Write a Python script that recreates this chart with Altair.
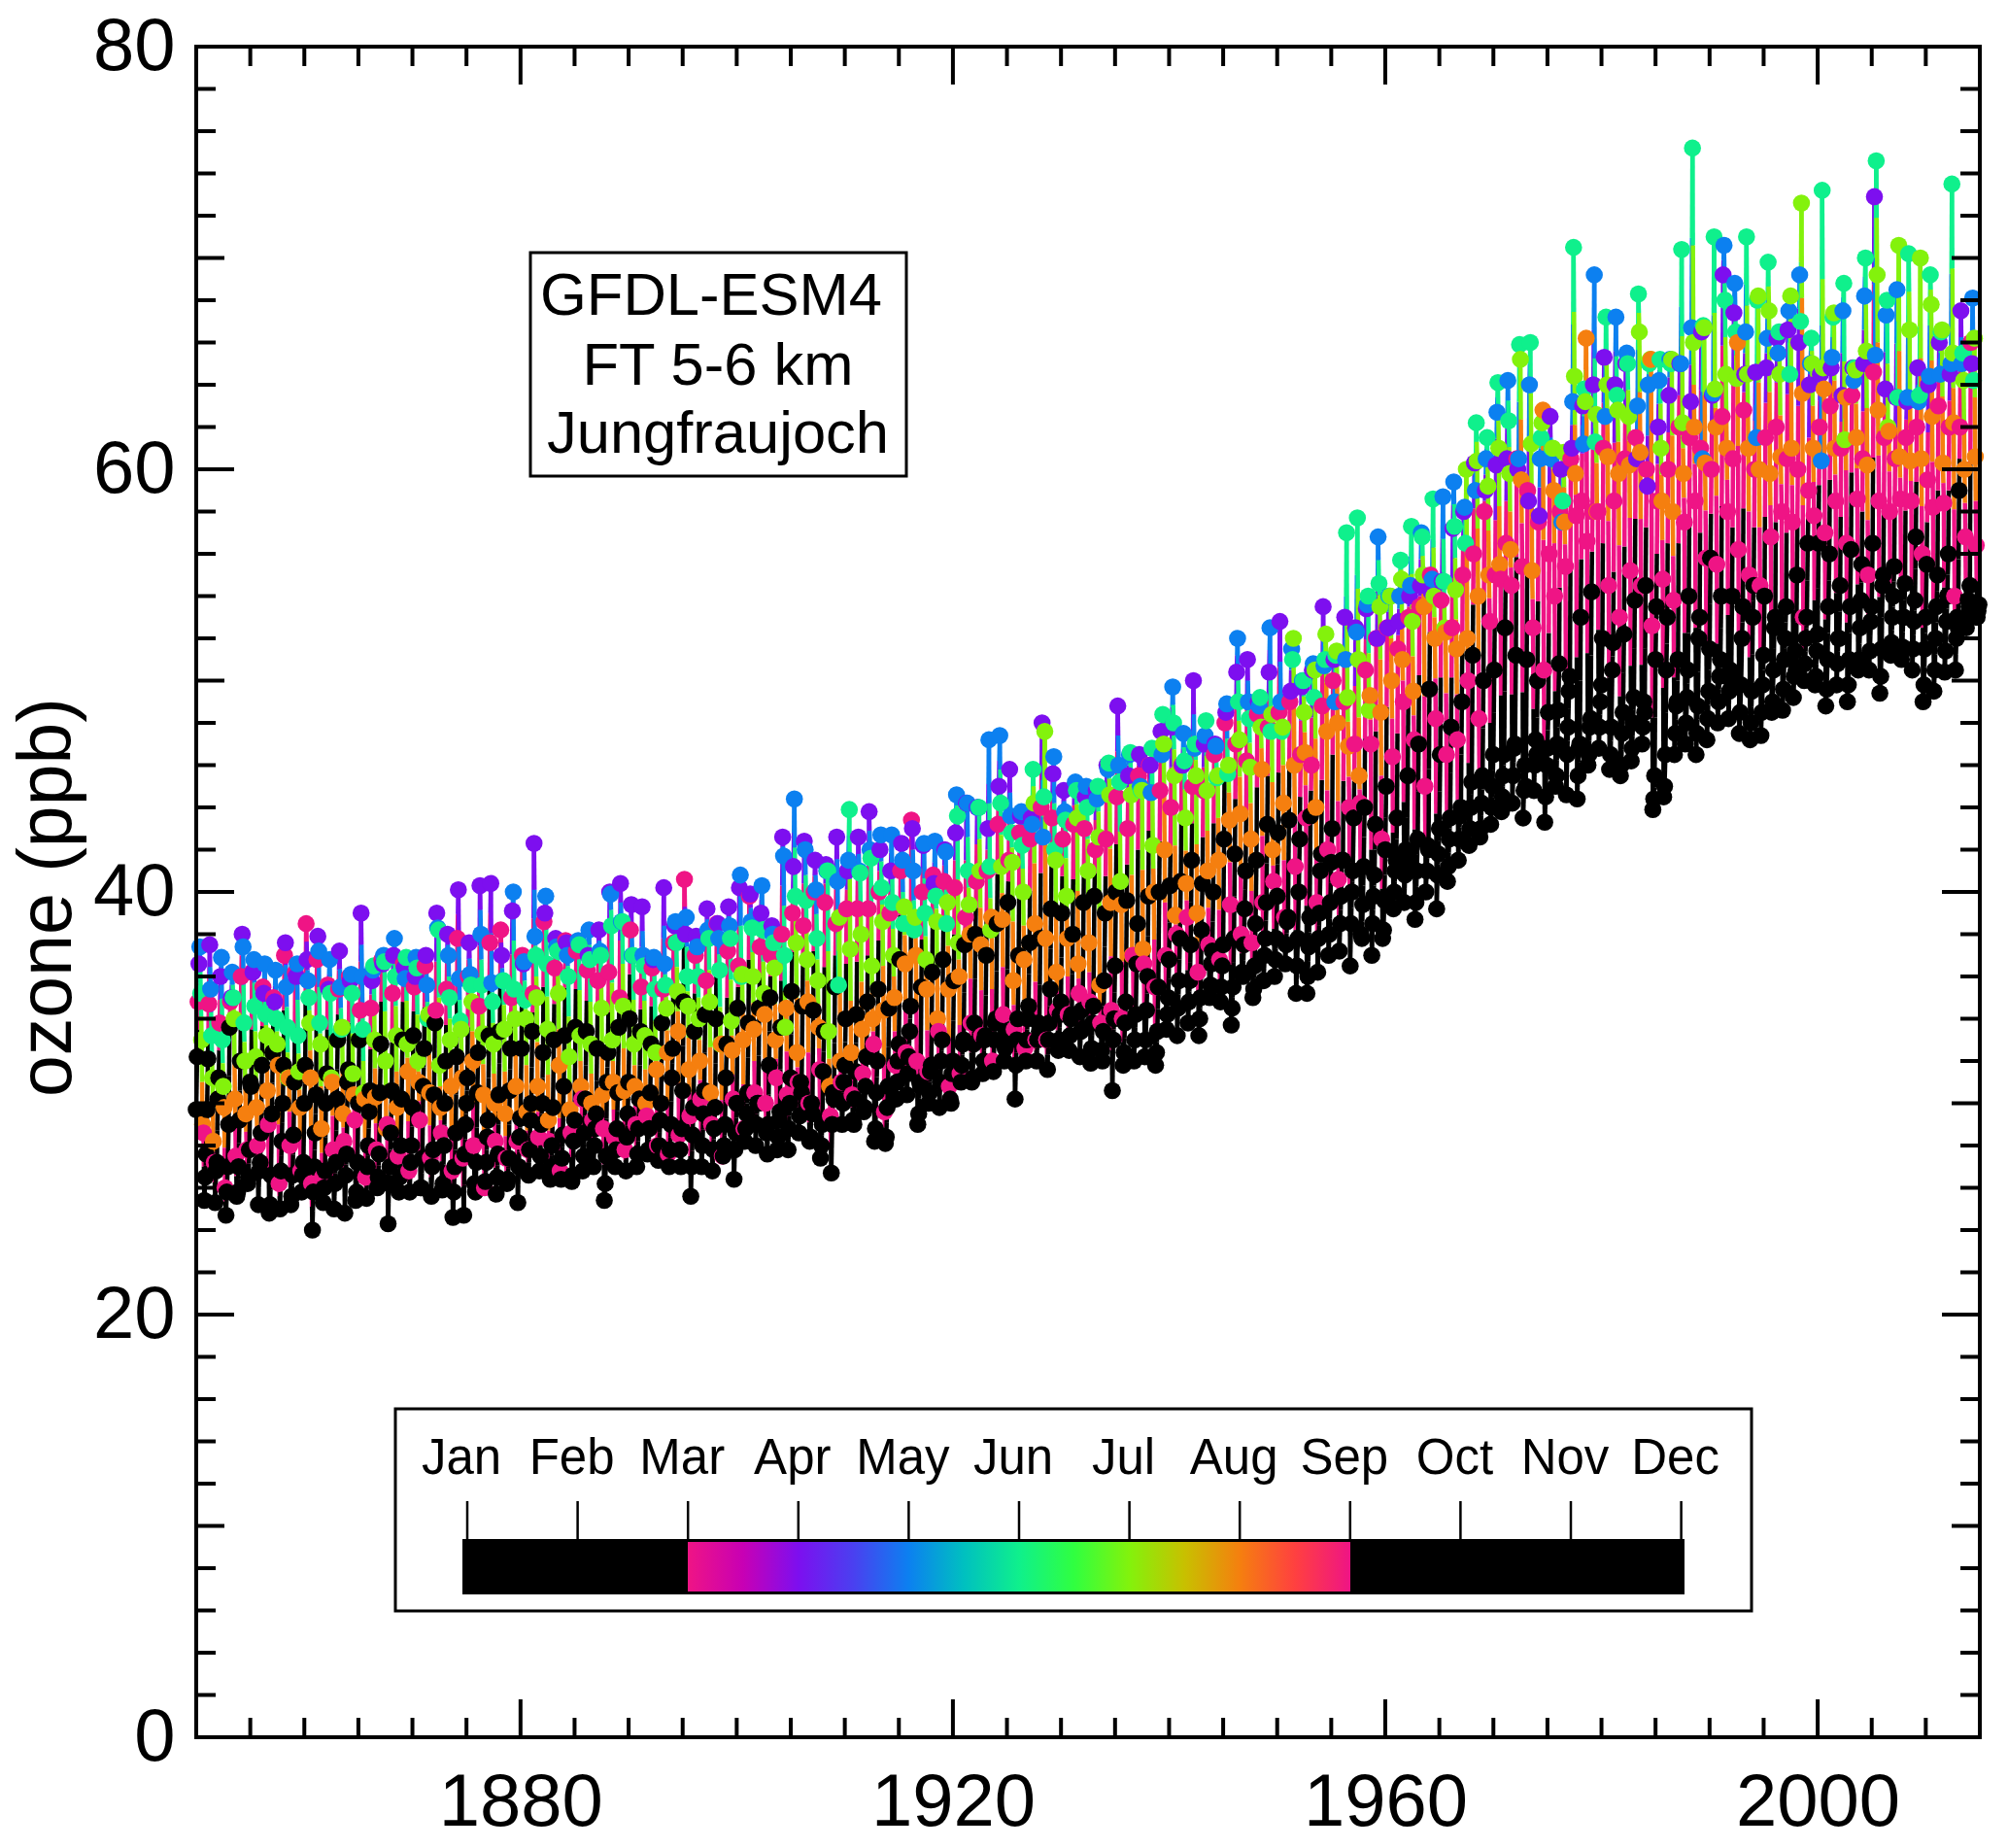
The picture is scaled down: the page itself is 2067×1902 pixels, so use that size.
import altair as alt
import pandas as pd

JAN = [29.7,29.7,30.2,29.0,29.2,31.0,28.6,29.5,30.0,28.5,
30.0,28.6,30.0,30.2,31.0,30.0,29.6,30.5,28.6,30.2,
29.8,30.8,30.4,30.0,28.6,30.0,30.5,29.2,30.4,30.6,
29.3,30.0,30.0,29.8,30.8,29.2,30.2,29.5,31.0,30.5,
31.0,30.2,30.5,30.0,31.2,30.6,29.8,30.6,29.8,31.2,
30.0,30.5,30.0,31.8,29.6,31.2,30.5,29.5,31.5,30.2,
31.8,31.5,32.2,32.0,30.8,32.8,33.4,30.8,31.8,33.0,
32.0,33.0,33.8,33.2,34.0,33.2,34.0,34.6,33.4,35.4,
34.8,34.2,33.5,34.6,35.8,36.5,34.8,36.6,36.0,35.5,
36.8,37.8,37.5,38.2,37.2,37.5,37.8,39.2,38.5,39.5,
39.8,38.8,40.0,38.8,41.0,41.4,41.5,41.0,41.2,40.8,
42.0,41.5,41.5,42.5,42.0,43.0,43.5,44.0,45.2,45.5,
46.5,46.5,47.0,45.0,46.5,46.8,48.6,49.5,47.0,48.2,
49.8,50.5,48.5,49.2,48.5,51.0,50.5,49.0,50.5,52.0,
51.5,51.0,50.0,52.0,53.0,51.2,52.5,52.0,50.5,53.0,
52.2,53.5,52.0,53.5,53.8,53.5,54.5,54.0,53.0,53.8,
53.0,53.5,54.0,52.5,53.5]
FEB = [32.2,32.1,31.2,33.6,32.0,30.8,31.8,32.4,31.8,31.0,
31.8,30.4,31.4,33.0,31.6,33.0,30.6,32.8,30.6,33.0,
33.2,32.6,33.8,32.0,32.2,31.2,32.4,33.2,33.4,32.6,
32.6,33.4,32.4,33.0,33.2,33.6,33.4,32.6,32.4,33.6,
34.0,33.4,32.8,33.8,32.6,34.8,33.4,34.2,34.0,32.8,
34.5,33.8,34.5,35.0,33.6,35.3,34.6,34.4,33.4,35.5,
34.0,34.2,34.8,35.4,34.5,36.8,34.6,35.5,36.2,36.8,
35.8,37.5,38.0,37.0,38.5,39.5,37.0,37.6,37.8,39.2,
39.0,38.0,39.5,39.8,39.0,40.0,39.6,38.5,39.8,40.0,
40.3,40.5,41.5,40.4,40.0,42.5,41.8,41.0,41.5,43.2,
42.8,43.4,42.5,43.6,41.8,43.0,41.5,43.5,44.0,43.2,
45.0,43.5,45.5,47.0,49.6,46.5,47.8,49.0,51.2,50.0,
50.5,52.5,51.2,51.0,50.0,48.5,50.8,50.2,53.0,54.2,
52.0,51.8,52.2,53.8,54.5,53.5,53.0,51.0,54.0,53.0,
55.8,54.0,54.0,53.5,54.5,54.0,53.0,53.5,55.0,56.5,
56.5,56.0,54.5,56.2,55.5,56.5,55.0,55.4,54.6,56.8,
55.5,55.0,56.0,59.0,54.5]
MAR = [34.8,34.7,33.8,34.8,36.0,36.2,35.5,35.0,37.0,36.2,
38.5,36.8,35.6,35.4,36.0,34.4,34.5,36.8,35.2,36.6,
35.5,36.5,34.4,35.4,37.8,36.0,34.6,37.6,38.2,35.0,
37.0,35.2,38.6,36.4,37.7,37.2,36.3,35.8,36.2,35.0,
38.2,35.5,36.4,35.4,37.6,40.6,37.0,35.8,38.5,37.2,
36.5,39.8,37.4,37.0,38.0,39.0,38.4,40.0,39.5,38.5,
39.2,39.2,39.2,40.0,39.0,41.0,43.4,40.0,40.8,40.5,
40.2,38.8,40.5,41.0,43.2,41.5,42.8,42.5,44.0,43.5,
42.5,43.2,43.0,42.0,42.5,44.5,43.0,45.5,46.0,44.8,
44.0,46.0,45.0,44.8,46.5,48.0,47.0,46.2,48.4,47.8,
48.5,49.0,46.5,46.0,48.8,50.0,49.0,47.0,50.5,52.0,
52.5,51.5,53.0,53.5,55.0,53.8,52.5,55.0,56.0,58.0,
55.0,56.5,60.5,59.0,57.5,56.0,58.0,60.5,58.5,58.0,
61.0,58.5,60.5,61.5,60.0,58.5,60.0,62.0,61.5,61.0,
60.0,62.5,60.5,62.8,60.0,61.5,62.0,60.5,60.0,59.0,
62.0,63.0,61.0,63.5,60.5,64.6,61.5,60.5,61.5,62.0,
59.5,63.0,62.0,62.0,66.0]
APR = [36.6,37.5,36.0,35.0,38.0,36.2,35.2,34.8,37.6,36.0,
36.8,37.9,35.4,37.2,35.8,39.0,35.8,36.6,37.0,36.4,
36.0,37.0,39.0,38.0,40.1,37.6,40.3,40.4,37.0,39.1,
36.6,42.3,39.0,37.8,37.6,37.6,37.0,38.2,40.0,40.4,
39.4,39.3,36.8,40.2,38.4,38.0,37.9,39.2,38.5,39.3,
40.2,39.9,39.0,38.4,42.6,41.2,42.4,41.5,41.3,42.6,
41.0,42.6,43.8,42.0,41.0,42.3,43.0,42.2,40.4,42.0,
42.8,44.2,44.0,43.0,45.0,45.8,43.6,43.5,48.0,45.6,
44.8,45.0,44.5,44.8,46.0,48.8,45.5,46.5,46.0,47.6,
47.8,46.0,50.0,47.0,47.0,48.5,50.4,51.0,49.0,50.4,
52.8,49.5,49.7,50.5,53.5,51.0,53.0,52.5,53.4,52.0,
52.5,52.8,54.0,54.5,54.2,54.7,57.2,58.0,60.3,59.0,
60.2,60.5,60.0,58.5,57.8,62.5,60.0,61.0,63.0,64.0,
65.3,64.0,65.0,60.5,59.2,62.0,63.5,65.0,63.2,66.5,
63.5,69.2,67.4,64.5,64.6,64.8,66.2,66.6,66.0,64.0,
64.5,64.8,63.5,64.8,65.0,72.9,63.8,63.4,63.2,64.8,
64.0,66.0,64.5,67.5,65.0]
MAY = [37.4,35.4,36.9,36.2,37.4,36.8,36.6,36.3,35.5,36.6,
35.8,37.2,36.8,35.5,36.1,36.0,36.3,37.0,37.8,35.9,
36.9,35.6,38.3,37.0,35.9,36.1,38.0,35.7,35.8,40.0,
36.7,37.9,39.8,37.4,37.0,37.7,38.2,37.2,39.9,38.6,
37.0,37.0,36.9,36.6,38.6,38.8,37.4,38.2,37.8,38.4,
40.8,38.6,40.3,38.0,41.7,44.4,42.0,40.1,41.0,40.5,
41.5,41.0,42.0,42.7,42.7,41.5,41.0,42.3,42.4,41.9,
44.6,44.2,44.0,47.2,47.4,43.6,43.8,43.2,42.6,46.4,
43.8,45.2,45.0,44.4,45.8,46.0,46.5,45.0,44.7,46.5,
49.7,47.5,46.8,47.4,46.9,48.9,52.0,49.0,48.8,52.5,
49.0,51.5,50.0,50.8,50.7,49.0,51.0,52.3,53.6,56.8,
54.0,54.0,54.5,57.0,54.8,58.7,59.4,58.2,59.0,60.5,
62.7,64.2,60.5,64.0,60.5,60.5,57.5,63.2,61.2,69.2,
62.5,67.2,65.5,63.0,64.0,64.2,65.2,65.0,66.7,60.5,
63.6,70.6,68.8,66.5,61.5,66.2,65.5,67.5,69.2,65.0,
60.4,65.3,67.5,64.2,68.2,65.4,67.3,68.5,63.4,63.2,
64.4,64.5,65.0,65.0,68.1]
JUN = [35.2,33.2,33.0,35.0,33.8,34.6,34.2,34.0,33.6,33.2,
35.0,33.8,35.2,33.5,35.2,33.5,36.5,36.7,36.0,36.9,
36.4,34.0,38.2,35.0,33.9,35.6,35.6,34.8,35.8,35.4,
34.9,37.0,36.6,37.2,36.0,37.5,36.8,37.0,38.4,38.6,
37.0,36.5,35.4,35.6,37.6,36.0,36.0,37.8,36.3,37.8,
36.0,38.3,38.2,37.6,37.0,39.8,39.6,37.8,41.0,35.6,
43.9,40.9,41.6,40.2,39.5,38.5,38.2,39.0,39.8,38.5,
43.6,41.0,44.0,41.2,44.2,42.8,42.2,45.8,44.5,42.0,
43.4,44.8,44.0,45.0,46.1,45.2,46.6,44.8,46.8,48.4,
48.0,46.2,47.0,48.1,45.4,45.6,49.0,48.2,49.2,47.6,
47.6,51.0,50.0,49.2,51.0,51.2,57.0,57.7,54.0,54.6,
54.0,55.7,57.3,56.8,58.6,54.7,57.3,56.5,62.2,61.5,
64.1,62.3,65.9,66.0,61.5,61.0,58.5,70.5,63.8,61.3,
67.2,63.5,65.0,68.3,65.0,65.2,65.0,70.4,75.2,66.8,
71.0,68.0,66.5,71.0,68.0,69.8,66.5,64.5,67.0,66.2,
73.2,67.2,68.8,64.8,70.0,74.6,68.0,63.4,70.2,63.5,
69.2,66.5,73.5,65.5,64.2]
JUL = [33.0,31.2,30.8,34.0,32.0,32.2,33.2,32.8,31.2,31.5,
33.8,32.8,31.2,33.6,31.4,30.5,33.0,32.0,33.2,32.8,
32.0,34.2,31.8,33.0,33.5,34.8,33.3,32.8,33.5,34.0,
34.0,35.0,33.5,35.2,32.2,33.2,32.8,34.5,33.0,34.6,
32.8,33.2,32.4,34.5,35.3,34.6,34.0,34.8,32.8,33.9,
36.1,36.0,35.2,36.4,33.6,37.6,36.8,35.8,33.4,38.8,
37.3,38.0,36.5,38.6,37.0,39.3,38.8,36.8,38.6,39.5,
37.6,39.4,41.0,38.2,41.2,41.4,40.0,44.2,47.6,41.5,
39.8,43.5,41.0,42.6,44.6,40.5,44.6,44.8,42.2,47.0,
45.5,43.5,45.5,44.8,45.5,46.0,47.2,45.9,47.8,48.4,
47.8,52.0,48.5,50.5,52.2,51.4,49.2,51.0,48.6,53.5,
54.0,54.8,52.8,55.0,54.0,52.5,54.3,60.0,60.4,59.2,
61.0,59.8,65.2,61.2,62.2,61.0,60.8,64.4,63.2,62.6,
64.0,62.8,62.5,66.5,65.2,61.0,65.2,62.2,66.0,66.7,
63.8,64.5,64.3,64.5,68.2,67.5,64.5,68.2,72.6,65.0,
64.8,67.4,61.4,64.7,65.6,69.2,62.0,70.6,66.6,70.0,
67.8,66.6,65.5,64.2,66.2]
AUG = [29.0,28.2,29.8,30.2,29.5,29.8,30.6,31.8,31.2,29.8,
31.2,28.8,31.0,29.5,30.4,30.2,30.3,28.8,29.8,31.5,
31.0,30.5,29.8,30.8,31.2,32.0,30.4,30.0,29.5,30.8,
29.6,30.8,29.2,31.8,29.7,30.8,30.0,30.4,31.0,30.6,
30.8,30.0,31.6,32.4,33.4,31.6,32.0,30.5,32.8,32.5,
33.0,33.5,34.2,33.0,34.5,32.4,34.8,33.6,30.8,32.0,
32.4,33.5,34.0,34.4,35.0,36.6,37.0,35.4,34.0,35.4,
36.0,38.0,37.5,38.8,38.7,35.8,36.8,38.5,37.8,36.2,
37.8,36.6,37.6,35.6,39.5,39.4,37.0,37.3,40.0,42.0,
38.9,40.4,39.0,41.0,41.5,43.4,43.7,42.5,45.8,42.0,
44.2,46.0,46.6,44.0,47.6,48.0,46.9,45.5,49.3,48.5,
50.0,51.0,49.5,53.5,52.0,52.3,51.5,52.0,54.0,55.0,
55.5,56.2,59.5,55.2,62.8,59.0,57.5,59.8,66.2,58.0,
60.6,59.8,60.2,60.8,65.2,58.5,58.0,59.8,62.0,60.3,
62.0,61.0,66.0,61.0,60.0,59.8,60.6,61.0,63.6,61.0,
63.8,61.0,63.4,61.5,60.2,62.8,61.8,60.6,60.4,60.5,
62.5,60.3,62.2,60.0,60.6]
SEP = [28.6,27.2,26.0,27.5,27.8,28.0,29.0,26.2,28.0,26.8,
26.2,26.5,27.8,28.2,29.2,26.5,27.8,29.0,27.5,26.8,
29.2,27.4,28.6,26.8,27.4,28.0,26.0,28.2,27.4,28.2,
27.8,28.4,28.2,26.8,28.6,30.2,29.2,28.8,28.4,27.8,
29.0,29.4,28.0,27.6,28.5,29.4,30.2,29.0,27.5,30.2,
28.8,30.5,30.0,31.2,30.4,31.0,30.0,31.6,29.4,31.0,
30.4,31.4,32.8,29.6,31.8,32.4,32.0,31.5,33.4,30.8,
31.4,33.8,33.2,32.0,34.2,33.5,32.6,33.0,33.0,34.4,
34.2,35.2,34.8,33.8,34.4,34.0,37.0,36.6,35.5,37.0,
38.0,38.8,36.2,37.5,36.8,39.4,38.0,37.6,39.5,40.5,
38.8,41.2,43.5,39.5,42.0,40.6,44.0,44.2,47.0,42.5,
46.4,49.0,47.2,45.0,48.2,46.5,47.2,50.0,48.2,52.8,
54.8,54.5,55.4,52.5,50.5,54.0,55.4,57.8,56.6,58.0,
54.5,53.0,55.2,54.5,52.6,54.8,53.8,57.5,58.5,55.8,
55.5,58.0,56.2,55.0,54.5,56.8,58.0,57.5,53.0,57.8,
57.0,58.5,56.5,58.6,55.0,58.5,58.0,58.6,58.5,56.0,
58.2,58.4,54.0,56.8,56.4]
OCT = [25.4,25.3,24.7,25.6,26.2,25.2,24.8,25.0,25.2,25.8,
24.0,25.3,25.0,24.8,25.4,25.5,26.0,24.3,25.8,25.8,
26.0,25.6,25.9,24.6,24.7,26.2,26.3,25.7,26.2,25.3,
26.6,26.8,26.4,26.4,26.3,26.8,27.0,25.4,27.0,26.8,
27.0,27.6,27.3,27.0,27.8,25.6,27.0,26.8,27.5,26.4,
28.2,28.0,28.6,27.8,27.8,28.6,28.2,27.4,26.7,29.0,
29.2,29.6,28.2,28.1,30.2,30.4,29.0,30.0,29.8,30.2,
31.0,31.0,31.4,31.5,32.0,30.2,32.0,32.0,31.6,32.5,
32.5,32.2,31.9,32.5,30.6,31.8,32.0,32.2,31.8,33.5,
33.2,33.8,33.2,35.0,34.8,33.7,36.2,35.0,35.8,36.0,
36.6,35.2,35.2,36.2,37.0,37.2,36.5,38.0,37.0,37.8,
39.2,39.5,38.7,40.0,39.2,40.5,41.5,42.2,42.6,43.2,
43.8,44.2,43.5,44.8,43.3,45.0,44.6,44.4,46.0,46.8,
45.8,45.5,46.2,47.0,43.9,44.5,46.5,47.0,46.5,47.2,
48.0,48.2,47.5,47.2,47.4,48.5,48.6,49.2,50.0,49.8,
48.8,49.8,49.0,50.5,50.5,49.4,51.2,51.0,50.5,49.0,
49.5,50.4,50.5,52.5,53.0]
NOV = [26.5,26.8,25.8,25.8,26.5,26.8,25.2,26.8,25.6,26.6,
25.8,26.0,26.2,26.6,25.8,27.0,26.5,26.2,26.5,27.2,
26.0,27.0,26.2,25.8,27.6,25.8,27.2,26.5,26.4,27.0,
27.8,27.5,27.0,27.4,26.6,27.5,28.0,26.2,27.8,28.4,
27.6,27.8,28.0,27.8,27.0,27.0,28.0,27.8,28.0,27.8,
28.8,29.0,27.6,28.4,28.8,29.4,28.4,28.0,29.0,30.0,
29.0,29.8,28.8,28.4,31.0,31.4,29.5,30.5,31.0,30.0,
31.8,31.2,32.0,33.0,32.6,31.8,33.0,33.0,33.0,33.0,
33.2,33.4,32.6,32.0,33.0,32.4,33.0,33.0,32.4,34.2,
34.5,34.8,34.0,35.6,35.5,34.5,36.0,35.4,37.0,36.8,
37.5,36.5,36.0,37.8,38.0,38.5,38.5,37.8,38.5,38.2,
40.0,40.8,39.5,41.0,40.8,41.2,42.5,43.0,43.0,44.0,
44.5,45.5,44.8,46.0,44.5,45.5,46.5,45.5,46.5,47.8,
46.5,46.0,46.8,47.8,44.4,45.0,47.5,48.0,47.5,48.2,
49.0,49.5,48.5,48.0,48.5,49.0,49.6,50.2,50.8,50.2,
49.6,50.8,49.8,51.0,51.4,50.2,51.8,51.6,51.5,49.8,
50.5,51.4,52.0,53.0,53.3]
DEC = [27.6,27.2,27.0,27.0,27.8,27.2,26.6,28.2,26.6,27.2,
27.0,26.8,27.2,27.6,27.2,28.0,27.6,27.0,28.0,28.0,
27.4,27.8,28.0,27.0,29.0,27.2,28.4,27.6,27.4,28.4,
29.2,29.0,28.0,28.5,28.2,28.6,28.8,27.5,28.8,29.5,
28.8,28.8,29.2,29.0,28.8,28.5,29.5,28.8,29.0,28.6,
29.5,30.0,29.0,29.2,30.0,31.0,30.0,29.0,30.5,31.0,
30.2,30.8,30.5,29.8,32.0,32.2,31.0,31.5,32.0,31.4,
32.8,32.8,33.0,33.8,33.4,33.0,34.0,33.8,33.8,34.2,
34.0,34.4,33.8,33.4,34.0,33.8,34.2,34.4,33.4,35.0,
35.8,35.8,35.0,36.6,36.5,35.5,37.5,36.5,37.8,37.8,
38.6,37.8,37.4,39.0,39.5,39.8,40.0,39.4,39.8,39.6,
41.0,42.0,41.0,42.2,41.8,42.5,43.6,44.0,44.2,45.0,
45.5,46.8,46.0,47.2,46.0,47.0,47.8,46.8,47.8,49.0,
47.8,47.5,48.0,49.0,45.5,46.5,48.8,49.2,48.8,49.5,
50.2,50.5,49.8,49.5,49.8,50.5,51.0,51.4,52.0,51.4,
51.0,52.0,51.0,52.5,52.8,51.5,53.0,53.0,52.8,51.5,
52.0,52.8,53.0,53.8,53.6]

MONTHS = ["Jan","Feb","Mar","Apr","May","Jun","Jul","Aug","Sep","Oct","Nov","Dec"]
SERIES = [JAN,FEB,MAR,APR,MAY,JUN,JUL,AUG,SEP,OCT,NOV,DEC]
COLORS = ["#000000","#000000","#ef1485","#7d0fef","#0c80f0","#0ff08c",
          "#83f20c","#f57f0f","#ef1485","#000000","#000000","#000000"]
FIRST_YEAR = 1850
N_YEARS = min(len(s) for s in SERIES)

FONT = "Liberation Sans"
W, H = 1836, 1740

pts = []
for yi in range(N_YEARS):
    for m in range(12):
        pts.append(dict(t=FIRST_YEAR + yi + m / 12, v=SERIES[m][yi], c=COLORS[m]))
segs = []
for i, p in enumerate(pts):
    if i > 0:
        q = pts[i - 1]
        segs.append(dict(t0=(p["t"] + q["t"]) / 2, v0=(p["v"] + q["v"]) / 2, t1=p["t"], v1=p["v"], c=p["c"]))
    if i < len(pts) - 1:
        q = pts[i + 1]
        segs.append(dict(t0=p["t"], v0=p["v"], t1=(p["t"] + q["t"]) / 2, v1=(p["v"] + q["v"]) / 2, c=p["c"]))
pts_df = pd.DataFrame(pts)
seg_df = pd.DataFrame(segs)

xscale = alt.Scale(domain=[1850, 2015], nice=False, zero=False)
yscale = alt.Scale(domain=[0, 80], nice=False)

stems = alt.Chart(seg_df).mark_rule(strokeWidth=4.5).encode(
    x=alt.X("t0:Q", scale=xscale,
            axis=alt.Axis(values=[1880, 1920, 1960, 2000], format="d", ticks=False, domain=False, grid=False,
                          labelFontSize=76, labelFont=FONT, labelColor="black", labelPadding=30,
                          labelFlush=False, title=None)),
    x2="t1:Q",
    y=alt.Y("v0:Q", scale=yscale,
            axis=alt.Axis(values=[0, 20, 40, 60, 80], ticks=False, domain=False, grid=False,
                          labelFontSize=76, labelFont=FONT, labelColor="black", labelPadding=22,
                          title="ozone (ppb)", titleFontSize=77, titleFont=FONT, titleFontWeight="normal",
                          titleColor="black", titleBaseline="middle", titleX=-153, titleY=875)),
    y2="v1:Q",
    color=alt.Color("c:N", scale=None),
)
dots = alt.Chart(pts_df).mark_circle(size=310, opacity=1).encode(
    x=alt.X("t:Q", scale=xscale), y=alt.Y("v:Q", scale=yscale), color=alt.Color("c:N", scale=None))


def xticks(values, length):
    d = pd.DataFrame({"t": values})
    bottom = alt.Chart(d).mark_rule(strokeWidth=4, color="black").encode(
        x=alt.X("t:Q", scale=xscale), y=alt.value(H), y2=alt.value(H - length))
    top = alt.Chart(d).mark_rule(strokeWidth=4, color="black").encode(
        x=alt.X("t:Q", scale=xscale), y=alt.value(0), y2=alt.value(length))
    return [bottom, top]


def yticks(values, length):
    d = pd.DataFrame({"v": values})
    left = alt.Chart(d).mark_rule(strokeWidth=4, color="black").encode(
        y=alt.Y("v:Q", scale=yscale), x=alt.value(0), x2=alt.value(length))
    right = alt.Chart(d).mark_rule(strokeWidth=4, color="black").encode(
        y=alt.Y("v:Q", scale=yscale), x=alt.value(W), x2=alt.value(W - length))
    return [left, right]


one = pd.DataFrame({"a": [0]})


def box(x0, x1, y0, y1, **kw):
    return alt.Chart(one).mark_rect(**kw).encode(
        x=alt.value(x0), x2=alt.value(x1), y=alt.value(y0), y2=alt.value(y1))


def label(txt, x, y, size):
    return alt.Chart(one).mark_text(text=txt, font=FONT, fontSize=size, color="black",
                                    align="center", baseline="middle").encode(x=alt.value(x), y=alt.value(y))


layers = [stems, dots]
layers += xticks([t for t in range(1855, 2015, 5) if t not in (1880, 1920, 1960, 2000)], 20)
layers += xticks([1880, 1920, 1960, 2000], 39)
layers += yticks([v for v in range(2, 80, 2) if v % 10], 20) + yticks([10, 30, 50, 70], 29) + yticks([20, 40, 60], 39)
layers.append(box(0, W, 0, H, filled=False, stroke="black", strokeWidth=4))

# text box
layers.append(box(344, 731, 212, 442, fill="white", stroke="black", strokeWidth=3))
layers += [label("GFDL-ESM4", 530, 258, 61.5), label("FT 5-6 km", 537, 330, 61.5), label("Jungfraujoch", 537, 400, 61.5)]

# month colour key
layers.append(box(205, 1601, 1402, 1610, fill="white", stroke="black", strokeWidth=3))
KEY0, KEYSTEP = 279, 113.6
key_df = pd.DataFrame({"month": MONTHS})
key_df["px"] = [KEY0 + KEYSTEP * i for i in range(12)]
key_df["lx"] = key_df["px"] - 6
layers.append(alt.Chart(key_df).mark_rule(strokeWidth=2.5, color="black").encode(
    x=alt.X("px:Q", scale=None), y=alt.value(1497), y2=alt.value(1536)))
layers.append(alt.Chart(key_df).mark_text(font=FONT, fontSize=51, color="black", align="center",
                                          baseline="middle").encode(
    x=alt.X("lx:Q", scale=None), y=alt.value(1454), text="month:N"))
layers.append(box(274, 1532, 1536, 1593, fill="black"))
STOPS = ["#ef1485", "#c800b4", "#7d0fef", "#4a40f0", "#0c80f0", "#00c0c0", "#0ff08c", "#30ff40",
         "#83f20c", "#c8c000", "#f57f0f", "#ff4040", "#ef1485"]
grad = alt.LinearGradient(gradient="linear", x1=0, x2=1, y1=0, y2=0,
                          stops=[alt.GradientStop(color=c, offset=i / (len(STOPS) - 1)) for i, c in enumerate(STOPS)])
layers.append(box(506, 1188, 1539, 1590, color=grad))

chart = alt.layer(*layers).properties(
    width=W, height=H, autosize="none",
    padding={"left": 194, "top": 40, "right": 20, "bottom": 106},
).configure_view(stroke=None).configure(background="white")

chart.save("out.html", embed_options={"renderer": "svg", "actions": False})
